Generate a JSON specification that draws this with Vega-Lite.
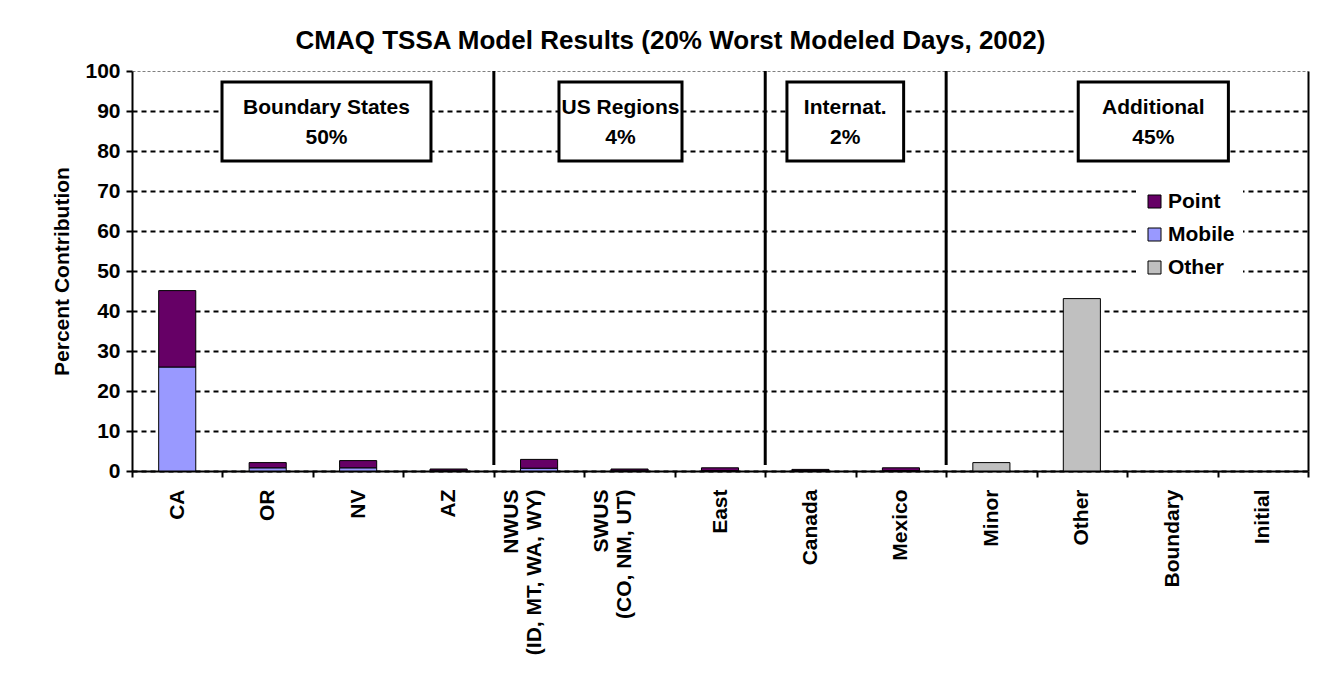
{
  "$schema": "https://vega.github.io/schema/vega-lite/v6.json",
  "width": 1176,
  "height": 400,
  "autosize": {"type": "none"},
  "padding": {"left": 132, "top": 71, "right": 26, "bottom": 214},
  "background": "white",
  "config": {
    "font": "Liberation Sans",
    "view": {"stroke": null},
    "axis": {"labelFont": "Liberation Sans", "titleFont": "Liberation Sans"}
  },
  "title": {
    "text": "CMAQ TSSA Model Results (20% Worst Modeled Days, 2002)",
    "fontSize": 26,
    "fontWeight": "bold",
    "color": "black",
    "anchor": "middle",
    "frame": "bounds",
    "offset": 6,
    "dx": -10
  },
  "datasets": {
    "bars": [
      {"cat": "CA", "source": "Mobile", "value": 26.0},
      {"cat": "CA", "source": "Point", "value": 19.1},
      {"cat": "OR", "source": "Mobile", "value": 0.8},
      {"cat": "OR", "source": "Point", "value": 1.3},
      {"cat": "NV", "source": "Mobile", "value": 0.8},
      {"cat": "NV", "source": "Point", "value": 1.8},
      {"cat": "AZ", "source": "Mobile", "value": 0.2},
      {"cat": "AZ", "source": "Point", "value": 0.3},
      {"cat": "NWUS\n(ID, MT, WA, WY)", "source": "Mobile", "value": 0.7},
      {"cat": "NWUS\n(ID, MT, WA, WY)", "source": "Point", "value": 2.2},
      {"cat": "SWUS\n(CO, NM, UT)", "source": "Mobile", "value": 0.2},
      {"cat": "SWUS\n(CO, NM, UT)", "source": "Point", "value": 0.3},
      {"cat": "East", "source": "Mobile", "value": 0.1},
      {"cat": "East", "source": "Point", "value": 0.7},
      {"cat": "Canada", "source": "Mobile", "value": 0.1},
      {"cat": "Canada", "source": "Point", "value": 0.3},
      {"cat": "Mexico", "source": "Mobile", "value": 0.1},
      {"cat": "Mexico", "source": "Point", "value": 0.7},
      {"cat": "Minor", "source": "Other", "value": 2.1},
      {"cat": "Other", "source": "Other", "value": 43.1}
    ],
    "separators": [
      {"pos": 4, "top": 100, "bottom": 1.5},
      {"pos": 7, "top": 100, "bottom": 1.5},
      {"pos": 9, "top": 100, "bottom": 1.5}
    ],
    "boxes": [
      {"label": "Boundary States|50%", "x0": 0.995, "x1": 3.305, "top": 97.25, "bottom": 77.5, "ytext": 90.75, "center": 2.15},
      {"label": "US Regions|4%", "x0": 4.72, "x1": 6.08, "top": 97.25, "bottom": 77.5, "ytext": 90.75, "center": 5.4},
      {"label": "Internat.|2%", "x0": 7.24, "x1": 8.53, "top": 97.25, "bottom": 77.5, "ytext": 90.75, "center": 7.885},
      {"label": "Additional|45%", "x0": 10.46, "x1": 12.12, "top": 97.25, "bottom": 77.5, "ytext": 90.75, "center": 11.29}
    ]
  },
  "layer": [
    {
      "data": {"name": "bars"},
      "mark": {"type": "bar", "width": {"band": 0.41}, "stroke": "black", "strokeWidth": 1},
      "encoding": {
        "x": {
          "field": "cat",
          "type": "nominal",
          "sort": null,
          "scale": {
            "domain": ["CA", "OR", "NV", "AZ", "NWUS\n(ID, MT, WA, WY)", "SWUS\n(CO, NM, UT)", "East", "Canada", "Mexico", "Minor", "Other", "Boundary", "Initial"],
            "paddingInner": 0,
            "paddingOuter": 0
          },
          "axis": {
            "title": null,
            "labelAngle": 270,
            "labelAlign": "right",
            "labelBaseline": "middle",
            "labelExpr": "split(datum.label, '\\n')",
            "labelFontSize": 21,
            "labelFontWeight": "bold",
            "labelColor": "black",
            "labelLineHeight": 23,
            "labelPadding": 12,
            "labelOffset": {"condition": {"test": "length(split(datum.value + '', '\\n')) > 1", "value": -28}, "value": 0},
            "tickBand": "extent",
            "tickSize": 6,
            "tickColor": "black",
            "tickWidth": 2,
            "domainColor": "black",
            "domainWidth": 2,
            "grid": false
          }
        },
        "y": {
          "aggregate": "sum",
          "field": "value",
          "type": "quantitative",
          "stack": "zero",
          "scale": {"domain": [0, 100], "nice": false},
          "axis": {
            "title": "Percent Contribution",
            "titleFontSize": 21,
            "titleFontWeight": "bold",
            "titleColor": "black",
            "titlePadding": 12,
            "values": [0, 10, 20, 30, 40, 50, 60, 70, 80, 90, 100],
            "labelFontSize": 21,
            "labelFontWeight": "bold",
            "labelColor": "black",
            "labelPadding": 6,
            "tickSize": 6,
            "tickColor": "black",
            "tickWidth": 2,
            "domainColor": "black",
            "domainWidth": 2,
            "grid": true,
            "gridColor": {"condition": {"test": "datum.value === 100", "value": "#808080"}, "value": "black"},
            "gridWidth": {"condition": {"test": "datum.value === 100", "value": 1}, "value": 2},
            "gridDash": {"condition": {"test": "datum.value === 100", "value": [3, 2]}, "value": [5, 4]}
          }
        },
        "color": {
          "field": "source",
          "type": "nominal",
          "scale": {"domain": ["Point", "Mobile", "Other"], "range": ["#660066", "#9999FF", "#C0C0C0"]},
          "legend": {
            "title": null,
            "orient": "none",
            "legendX": 1004,
            "legendY": 112,
            "fillColor": "white",
            "padding": 8,
            "symbolType": "square",
            "symbolSize": 169,
            "symbolStrokeColor": "black",
            "symbolStrokeWidth": 1,
            "labelFontSize": 21,
            "labelFontWeight": "bold",
            "labelColor": "black",
            "labelOffset": 3,
            "rowPadding": 11
          }
        },
        "order": {"field": "source", "sort": "ascending"}
      }
    },
    {
      "layer": [
        {
          "data": {"name": "separators"},
          "mark": {"type": "rule", "color": "black", "strokeWidth": 3},
          "encoding": {
            "x": {"field": "pos", "type": "quantitative", "scale": {"domain": [0, 13], "nice": false}, "axis": null},
            "y": {"field": "top", "type": "quantitative", "axis": {"orient": "right", "title": null, "labels": false, "ticks": false, "grid": false, "domainColor": "black", "domainWidth": 2}},
            "y2": {"field": "bottom"}
          }
        },
        {
          "data": {"name": "boxes"},
          "mark": {"type": "rect", "fill": "white", "stroke": "black", "strokeWidth": 3},
          "encoding": {
            "x": {"field": "x0", "type": "quantitative", "scale": {"domain": [0, 13], "nice": false}, "axis": null},
            "x2": {"field": "x1"},
            "y": {"field": "top", "type": "quantitative", "axis": {"orient": "right", "title": null, "labels": false, "ticks": false, "grid": false, "domainColor": "black", "domainWidth": 2}},
            "y2": {"field": "bottom"}
          }
        },
        {
          "data": {"name": "boxes"},
          "mark": {"type": "text", "fontSize": 21, "fontWeight": "bold", "color": "black", "lineBreak": "|", "lineHeight": 30, "align": "center", "baseline": "middle"},
          "encoding": {
            "x": {"field": "center", "type": "quantitative", "scale": {"domain": [0, 13], "nice": false}, "axis": null},
            "y": {"field": "ytext", "type": "quantitative", "axis": {"orient": "right", "title": null, "labels": false, "ticks": false, "grid": false, "domainColor": "black", "domainWidth": 2}},
            "text": {"field": "label", "type": "nominal"}
          }
        }
      ]
    }
  ],
  "resolve": {"scale": {"x": "independent"}, "axis": {"x": "independent", "y": "independent"}}
}
